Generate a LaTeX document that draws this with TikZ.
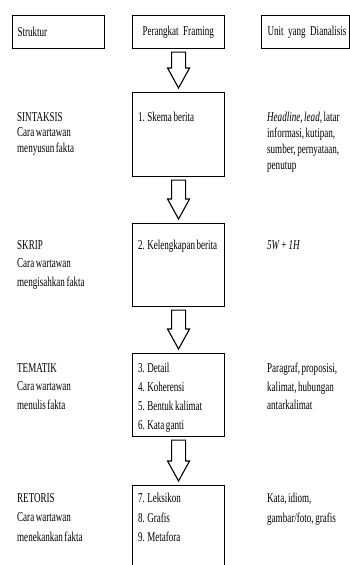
\documentclass[tikz,border=0pt]{standalone}
\usepackage{fontspec}
\setmainfont[FakeStretch=0.67,WordSpace=0.7]{Liberation Serif}
\usetikzlibrary{calc}

\newcommand{\blockarrow}[2]{%
  \draw[line width=1.1pt] let \p1=(#1.south), \p2=(#2.north) in
    (\x1-7pt,\y1-3pt) -- (\x1-7pt,\y2+24pt) -- (\x1-11pt,\y2+24pt) -- (\x1,\y2+4pt)
    -- (\x1+11pt,\y2+24pt) -- (\x1+7pt,\y2+24pt) -- (\x1+7pt,\y1-3pt) -- cycle;}

\begin{document}
\begin{tikzpicture}[x=1pt,y=-1pt,
    hbox/.style={draw, line width=1.1pt, anchor=north west, minimum height=33pt,
      inner xsep=5pt, align=left, font=\fontsize{13.5}{15}\selectfont},
    fbox/.style={draw, line width=1.1pt, anchor=north west, minimum width=92pt},
    txt/.style={anchor=north west, inner sep=0pt, align=left,
      font=\fontsize{13.5}{#1}\selectfont},
    txt/.default=18.5]
        \clip (0,0) rectangle (350,565);

        % judul kolom
        \node[hbox, text width=82pt] (struktur) at (12,15) {Struktur};
        \node[hbox, text width=72pt, inner xsep=10pt] (pf) at (132,15) {\mbox{Perangkat Framing}};
        \node[hbox, text width=76pt, inner xsep=6pt] (unit) at (261,15) {\mbox{Unit yang Dianalisis}};

        % kotak perangkat
        \node[fbox, minimum height=84pt] (b1) at (132,92) {};
        \node[fbox, minimum height=83pt] (b2) at (132,223) {};
        \node[fbox, minimum height=83pt] (b3) at (132,353) {};
        \node[fbox, minimum height=90pt] (b4) at (132,485) {};

        \foreach \a/\b in {pf/b1,b1/b2,b2/b3,b3/b4}
        \blockarrow{\a}{\b};

        % sintaksis
        \node[txt=15.5] (s1) at (17,112) {SINTAKSIS\\Cara wartawan\\menyusun fakta};
        \node[txt] (p1) at (138,112) {1. Skema berita};
        \node[txt=16] (u1) at (267,112) {\textit{Headline}, \textit{lead}, latar\\informasi, kutipan,\\sumber, pernyataan,\\penutup};

        % skrip
        \node[txt] (s2) at (17,240) {SKRIP\\Cara wartawan\\mengisahkan fakta};
        \node[txt] (p2) at (138,240) {2. Kelengkapan berita};
        \node[txt] (u2) at (267,240) {\textit{5W + 1H}};

        % tematik
        \node[txt] (s3) at (17,363) {TEMATIK\\Cara wartawan\\menulis fakta};
        \node[txt=19] (p3) at (138,363) {3. Detail\\4. Koherensi\\5. Bentuk kalimat\\6. Kata ganti};
        \node[txt] (u3) at (267,363) {Paragraf, proposisi,\\kalimat, hubungan\\antarkalimat};

        % retoris
        \node[txt=19.5] (s4) at (17,493) {RETORIS\\Cara wartawan\\menekankan fakta};
        \node[txt=19.5] (p4) at (138,493) {7. Leksikon\\8. Grafis\\9. Metafora};
        \node[txt=19.5] (u4) at (267,493) {Kata, idiom,\\gambar/foto, grafis};
    \end{tikzpicture}
\end{document}
